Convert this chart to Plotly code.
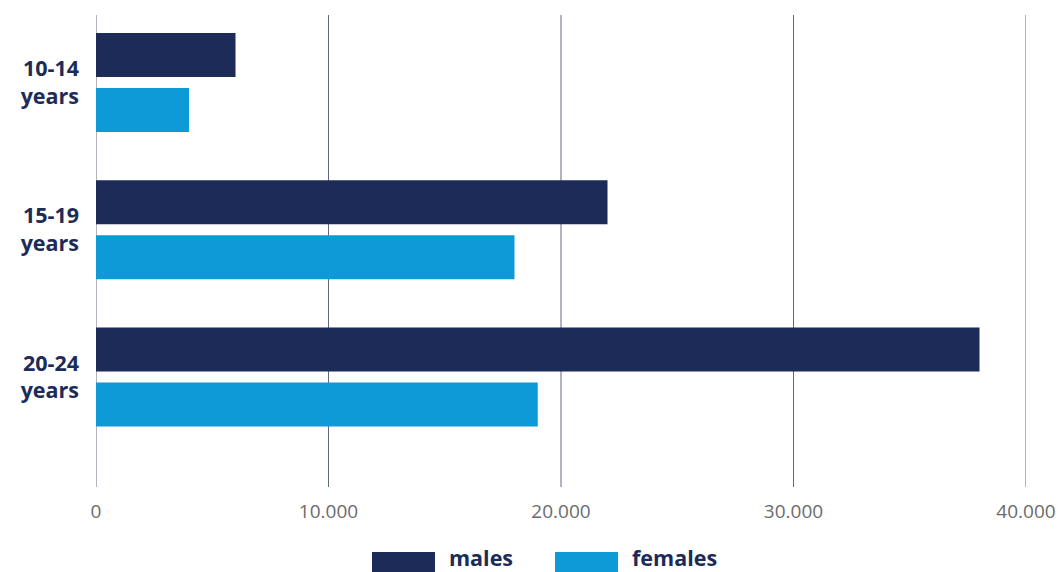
import plotly.graph_objects as go

categories = ["10-14<br>years", "15-19<br>years", "20-24<br>years"]
males = [6000, 22000, 38000]
females = [4000, 18000, 19000]
series_names = ["males", "females"]
x_ticks = [0, 10000, 20000, 30000, 40000]

NAVY = "#1c2b57"
BLUE = "#0e9ad6"
GRID = "#606a7e"
FONT = "Open Sans"

fig = go.Figure()
fig.add_trace(go.Bar(y=categories, x=males, name=series_names[0], orientation="h",
                     marker=dict(color=NAVY, line=dict(width=0)), showlegend=False))
fig.add_trace(go.Bar(y=categories, x=females, name=series_names[1], orientation="h",
                     marker=dict(color=BLUE, line=dict(width=0)), showlegend=False))

fig.update_layout(
    width=1058, height=572,
    margin=dict(l=96, r=32, t=15, b=85),
    plot_bgcolor="white", paper_bgcolor="white",
    barmode="group", bargap=0.253, bargroupgap=0.2,
    separators=",.",
    font=dict(family=FONT),
    xaxis=dict(range=[0, 40000], tickvals=x_ticks, tickformat=",d",
               showgrid=False, zeroline=False, showline=False, automargin=False,
               tickfont=dict(family=FONT, size=19, color="#6b6b6b"),
               ticks="outside", ticklen=7, tickcolor="rgba(0,0,0,0)"),
    yaxis=dict(type="category", range=[2.747, -0.458], showgrid=False,
               zeroline=False, showline=False, ticks="", automargin=False,
               tickfont=dict(family=FONT, size=21.5, color=NAVY, weight="bold"),
               ticklabelstandoff=16),
)

# vertical grid lines at every tick (including the range edges)
for v in x_ticks:
    fig.add_shape(type="line", xref="x", yref="paper", x0=v, x1=v, y0=0, y1=1,
                  line=dict(color=GRID, width=1), layer="below")

# custom legend (wide swatches)
def px2x(px):
    return (px - 96) / 930.0

def py2y(py):
    return (487 - py) / 472.0

legend_items = [(372, 435, NAVY, series_names[0]), (555, 618, BLUE, series_names[1])]
for x0, x1, col, name in legend_items:
    fig.add_shape(type="rect", xref="paper", yref="paper",
                  x0=px2x(x0), x1=px2x(x1), y0=py2y(572), y1=py2y(552),
                  fillcolor=col, line=dict(width=0))
    fig.add_annotation(xref="paper", yref="paper", x=px2x(x1 + 13), y=py2y(557),
                       text=f"<b>{name}</b>", showarrow=False, xanchor="left",
                       yanchor="middle", borderpad=0,
                       font=dict(family=FONT, size=21.5, color=NAVY))

fig.write_html("out.html")
